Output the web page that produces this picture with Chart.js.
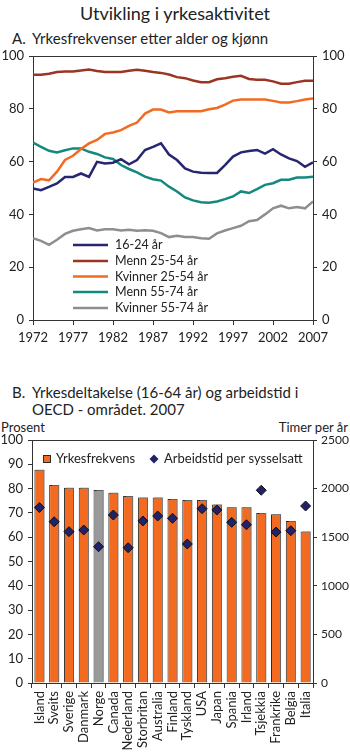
<!DOCTYPE html>
<html>
<head>
<meta charset="utf-8">
<script src="https://cdn.jsdelivr.net/npm/chart.js@4"></script>
<style>
  body { margin: 0; background: #fff; font-family: Lato, sans-serif; color: #222; }
  #wrap { position: relative; width: 350px; height: 753px; overflow: hidden; }
  canvas { position: absolute; left: 0; }
  .t { position: absolute; white-space: nowrap; }
  .main { top: 2px; left: 0; width: 350px; text-align: center; font-size: 18px; }
  .sub { font-size: 15px; }
  .sub b { font-weight: normal; position: absolute; left: -20px; }
  .axt { font-size: 13px; top: 419px; }
</style>
</head>
<body>
<div id="wrap">
  <div class="t main">Utvikling i yrkesaktivitet</div>
  <div class="t sub" style="top:29px;left:32px"><b>A.</b>Yrkesfrekvenser etter alder og kjønn</div>
  <div class="t sub" style="top:383px;left:32px"><b>B.</b>Yrkesdeltakelse (16-64 år) og arbeidstid i</div>
  <div class="t sub" style="top:400px;left:32px">OECD - området. 2007</div>
  <div class="t axt" style="left:1px">Prosent</div>
  <div class="t axt" style="right:2px">Timer per år</div>
  <canvas id="chartA" width="350" height="360" style="top:0"></canvas>
  <canvas id="chartB" width="350" height="383" style="top:370px"></canvas>
</div>
<script>
// --- panel A: yrkesfrekvenser 1972-2007
var years = [];
for (var yr = 1972; yr <= 2007; yr++) years.push(yr);

var ung1624 = [49.8, 49.2, 50.4, 51.7, 54.2, 54.2, 55.5, 54.2, 59.9, 59.3, 59.6, 60.9, 59.0, 60.6, 64.4, 65.6, 66.9, 62.7, 60.6, 57.4, 56.2, 55.8, 55.7, 55.7, 58.7, 61.9, 63.5, 64.0, 64.4, 63.0, 64.7, 62.7, 61.2, 60.2, 58.0, 59.7];
var menn2554 = [92.9, 92.9, 93.3, 93.9, 94.1, 94.1, 94.5, 94.9, 94.3, 93.9, 93.9, 93.9, 94.4, 94.8, 94.4, 93.9, 93.6, 93.0, 92.0, 91.6, 90.7, 90.1, 90.1, 91.2, 91.6, 92.1, 92.5, 91.3, 91.0, 91.0, 90.4, 89.5, 89.5, 90.1, 90.6, 90.6];
var kvinner2554 = [52.0, 53.4, 52.9, 56.2, 60.6, 62.2, 64.8, 66.9, 68.2, 70.5, 71.0, 71.9, 73.5, 74.8, 78.2, 79.7, 79.7, 78.6, 79.1, 79.1, 79.1, 79.1, 79.8, 80.3, 81.6, 83.1, 83.5, 83.5, 83.5, 83.5, 83.0, 82.4, 82.4, 82.9, 83.5, 83.9];
var menn5574 = [67.2, 65.6, 64.1, 63.5, 64.3, 65.0, 65.0, 63.7, 62.9, 61.6, 61.0, 58.7, 57.2, 55.9, 54.3, 53.3, 52.8, 50.5, 48.7, 46.4, 45.3, 44.6, 44.4, 44.9, 45.8, 46.8, 48.7, 48.1, 49.6, 51.2, 51.8, 53.1, 53.1, 54.0, 54.0, 54.3];
var kvinner5574 = [31.0, 30.0, 28.5, 30.4, 32.6, 33.8, 34.4, 34.8, 33.9, 34.4, 34.4, 33.9, 34.2, 33.8, 34.0, 33.8, 32.9, 31.4, 31.9, 31.4, 31.4, 31.0, 30.8, 32.8, 33.9, 34.8, 35.7, 37.4, 37.9, 40.0, 42.3, 43.3, 42.3, 42.8, 42.3, 44.9];

// --- panel B: OECD 2007
var land = ['Island', 'Sveits', 'Sverige', 'Danmark', 'Norge', 'Canada', 'Nederland', 'Storbritan', 'Australia', 'Finland', 'Tyskland', 'USA', 'Japan', 'Spania', 'Irland', 'Tsjekkia', 'Frankrike', 'Belgia', 'Italia'];
var yrkesfrekvens = [87.8, 81.5, 80.4, 80.4, 79.4, 78.3, 77.0, 76.3, 76.3, 75.7, 75.3, 75.3, 73.5, 72.3, 72.3, 70.0, 69.4, 66.7, 62.3];
var arbeidstid = [1805, 1659, 1557, 1574, 1402, 1728, 1392, 1667, 1718, 1694, 1430, 1793, 1780, 1653, 1628, 1983, 1553, 1567, 1821];

var FONT = 'Lato, sans-serif';
Chart.defaults.font.family = FONT;
Chart.defaults.font.size = 13;
Chart.defaults.color = '#222';

var AXIS = '#333';

// legend drawn inside the plot area
var innerLegend = {
  id: 'innerLegend',
  afterDraw: function(chart, args, opts) {
    var ctx = chart.ctx;
    ctx.save();
    ctx.font = (opts.size || 13) + 'px ' + FONT;
    ctx.fillStyle = '#222';
    ctx.textBaseline = 'middle';
    opts.items.forEach(function(it) {
      var ds = chart.data.datasets[it.ds];
      if (it.kind === 'line') {
        ctx.strokeStyle = ds.borderColor;
        ctx.lineWidth = 2.5;
        ctx.beginPath();
        ctx.moveTo(it.x, it.y);
        ctx.lineTo(it.x + 35, it.y);
        ctx.stroke();
        ctx.fillText(ds.label, it.x + 42, it.y);
      } else if (it.kind === 'box') {
        ctx.fillStyle = '#F26B21';
        ctx.strokeStyle = '#2b2b2b';
        ctx.lineWidth = 1;
        ctx.fillRect(it.x, it.y - 4, 8, 8);
        ctx.strokeRect(it.x + 0.5, it.y - 3.5, 7, 7);
        ctx.fillStyle = '#222';
        ctx.fillText(ds.label, it.x + 13, it.y);
      } else {
        ctx.fillStyle = ds.backgroundColor;
        ctx.beginPath();
        ctx.moveTo(it.x, it.y - 4.5);
        ctx.lineTo(it.x + 4.5, it.y);
        ctx.lineTo(it.x, it.y + 4.5);
        ctx.lineTo(it.x - 4.5, it.y);
        ctx.closePath();
        ctx.fill();
        ctx.fillStyle = '#222';
        ctx.fillText(ds.label, it.x + 10, it.y);
      }
    });
    ctx.restore();
  }
};

// light drop shadow on the bars
var barShadow = {
  id: 'barShadow',
  beforeDatasetDraw: function(chart, args) {
    if (args.meta.type === 'bar') {
      chart.ctx.save();
      chart.ctx.shadowColor = 'rgba(120,120,120,0.7)';
      chart.ctx.shadowOffsetX = 2;
      chart.ctx.shadowOffsetY = -1;
      chart.ctx.shadowBlur = 0;
    }
  },
  afterDatasetDraw: function(chart, args) {
    if (args.meta.type === 'bar') chart.ctx.restore();
  }
};

function topLine(max) {
  return function(c) { return c.tick && c.tick.value === max ? AXIS : 'rgba(0,0,0,0)'; };
}

function plain(v) { return String(v); }

function lineSet(label, data, color) {
  return { label: label, data: data, borderColor: color, backgroundColor: color, borderWidth: 2.5, pointRadius: 0, tension: 0 };
}

new Chart(document.getElementById('chartA'), {
  type: 'line',
  data: {
    labels: years,
    datasets: [
      lineSet('16-24 år', ung1624, '#27276F'),
      lineSet('Menn 25-54 år', menn2554, '#9B3522'),
      lineSet('Kvinner 25-54 år', kvinner2554, '#F26B21'),
      lineSet('Menn 55-74 år', menn5574, '#13897F'),
      lineSet('Kvinner 55-74 år', kvinner5574, '#8E8E8E')
    ]
  },
  options: {
    responsive: false,
    animation: false,
    layout: { padding: { top: 56, left: 0, right: 0, bottom: 0 } },
    plugins: {
      legend: { display: false },
      tooltip: { enabled: false },
      innerLegend: {
        size: 12.5,
        items: [
          { ds: 0, kind: 'line', x: 73, y: 245 },
          { ds: 1, kind: 'line', x: 73, y: 261 },
          { ds: 2, kind: 'line', x: 73, y: 276.5 },
          { ds: 3, kind: 'line', x: 73, y: 292 },
          { ds: 4, kind: 'line', x: 73, y: 308 }
        ]
      }
    },
    scales: {
      x: {
        type: 'linear', min: 1972, max: 2007,
        ticks: { stepSize: 5, padding: 5, callback: plain },
        grid: { drawOnChartArea: false, tickLength: 5, tickColor: AXIS },
        border: { color: AXIS },
        afterFit: function(s) { s.height = 40; }
      },
      y: {
        position: 'left', min: 0, max: 100,
        ticks: { stepSize: 20, padding: 5 },
        grid: { color: topLine(100), tickColor: AXIS, tickLength: 4 },
        border: { color: AXIS },
        afterFit: function(s) { s.width = 33; }
      },
      y2: {
        position: 'right', min: 0, max: 100,
        ticks: { stepSize: 20, padding: 5 },
        grid: { drawOnChartArea: false, tickColor: AXIS, tickLength: 4 },
        border: { color: AXIS },
        afterFit: function(s) { s.width = 37; }
      }
    }
  },
  plugins: [innerLegend]
});

new Chart(document.getElementById('chartB'), {
  type: 'bar',
  data: {
    labels: land,
    datasets: [
      {
        type: 'line',
        label: 'Arbeidstid per sysselsatt',
        data: arbeidstid,
        yAxisID: 'y2',
        showLine: false,
        pointStyle: 'rectRot',
        pointRadius: 5,
        backgroundColor: '#22226B',
        borderColor: '#111',
        borderWidth: 1,
        order: 0
      },
      {
        type: 'bar',
        label: 'Yrkesfrekvens',
        data: yrkesfrekvens,
        yAxisID: 'y',
        backgroundColor: land.map(function(l) { return l === 'Norge' ? '#999999' : '#F26B21'; }),
        borderColor: '#2b2b2b',
        borderWidth: 1,
        barPercentage: 0.68,
        categoryPercentage: 1,
        order: 1
      }
    ]
  },
  options: {
    responsive: false,
    animation: false,
    layout: { padding: { top: 70, left: 0, right: 0, bottom: 0 } },
    plugins: {
      legend: { display: false },
      tooltip: { enabled: false },
      innerLegend: {
        size: 13,
        items: [
          { ds: 1, kind: 'box', x: 43, y: 89 },
          { ds: 0, kind: 'diamond', x: 154, y: 89 }
        ]
      }
    },
    scales: {
      x: {
        ticks: { minRotation: 90, maxRotation: 90, autoSkip: false, padding: 3 },
        grid: { drawOnChartArea: false, offset: true, tickLength: 5, tickColor: AXIS },
        border: { color: AXIS },
        afterFit: function(s) { s.height = 70; }
      },
      y: {
        position: 'left', min: 0, max: 100,
        ticks: { stepSize: 10, padding: 5 },
        grid: { color: topLine(100), tickColor: AXIS, tickLength: 4 },
        border: { color: AXIS },
        afterFit: function(s) { s.width = 32; }
      },
      y2: {
        position: 'right', min: 0, max: 2500,
        ticks: { stepSize: 500, padding: 4, font: { size: 12 }, callback: plain },
        grid: { drawOnChartArea: false, tickColor: AXIS, tickLength: 4 },
        border: { color: AXIS },
        afterFit: function(s) { s.width = 37; }
      }
    }
  },
  plugins: [innerLegend, barShadow]
});
</script>
</body>
</html>
